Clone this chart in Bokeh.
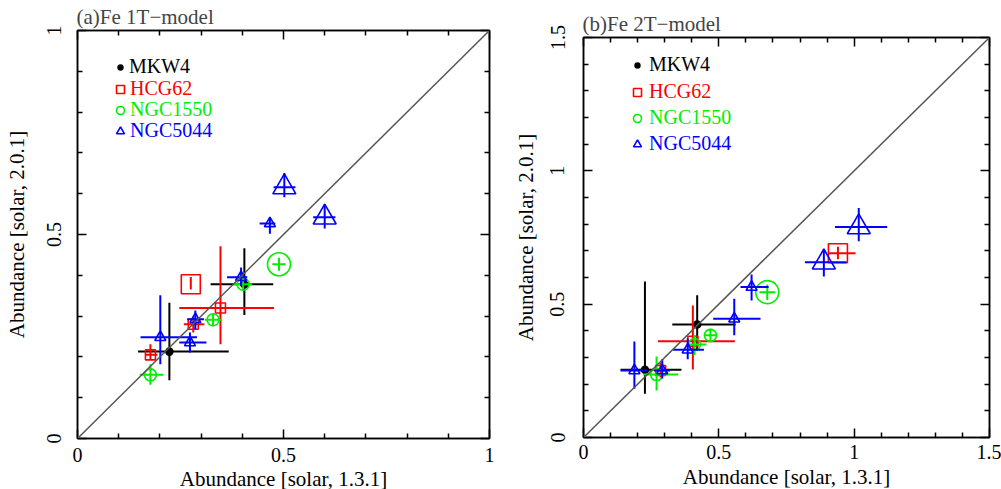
from bokeh.plotting import figure
from bokeh.models import (ColumnDataSource, FixedTicker, LinearAxis, Range1d, Slope,
                          Legend, LegendItem, NumeralTickFormatter)
from bokeh.layouts import row
from bokeh.embed import file_html
from bokeh.resources import INLINE

FONT = "Liberation Serif"
FS_TICK = "20px"
FS_TEXT = "21px"
FS_KEY = "20px"

# ---------------- (a) Fe, 1T model ----------------
mkw4_1t_x = [0.223, 0.405]
mkw4_1t_xlo = [0.147, 0.323]
mkw4_1t_xhi = [0.367, 0.475]
mkw4_1t_y = [0.213, 0.378]
mkw4_1t_ylo = [0.143, 0.303]
mkw4_1t_yhi = [0.333, 0.466]
mkw4_1t_big = [0, 0]

hcg62_1t_x = [0.177, 0.281, 0.347, 0.275]
hcg62_1t_xlo = [0.165, 0.258, 0.247, 0.275]
hcg62_1t_xhi = [0.194, 0.308, 0.477, 0.275]
hcg62_1t_y = [0.205, 0.280, 0.320, 0.378]
hcg62_1t_ylo = [0.193, 0.260, 0.231, 0.365]
hcg62_1t_yhi = [0.231, 0.297, 0.471, 0.396]
hcg62_1t_big = [0, 0, 0, 1]

ngc1550_1t_x = [0.177, 0.329, 0.402, 0.489]
ngc1550_1t_xlo = [0.151, 0.309, 0.379, 0.473]
ngc1550_1t_xhi = [0.208, 0.351, 0.424, 0.505]
ngc1550_1t_y = [0.156, 0.291, 0.378, 0.427]
ngc1550_1t_ylo = [0.132, 0.275, 0.362, 0.411]
ngc1550_1t_yhi = [0.182, 0.305, 0.395, 0.443]
ngc1550_1t_big = [0, 0, 0, 1]

ngc5044_1t_x = [0.201, 0.273, 0.286, 0.397, 0.467, 0.502, 0.600]
ngc5044_1t_xlo = [0.153, 0.247, 0.266, 0.363, 0.442, 0.476, 0.572]
ngc5044_1t_xhi = [0.290, 0.313, 0.307, 0.412, 0.480, 0.529, 0.626]
ngc5044_1t_y = [0.248, 0.235, 0.292, 0.395, 0.527, 0.616, 0.542]
ngc5044_1t_ylo = [0.182, 0.211, 0.268, 0.374, 0.502, 0.591, 0.515]
ngc5044_1t_yhi = [0.351, 0.260, 0.314, 0.419, 0.542, 0.651, 0.574]
ngc5044_1t_big = [0, 0, 0, 0, 0, 1, 1]

# ---------------- (b) Fe, 2T model ----------------
mkw4_2t_x = [0.227, 0.420]
mkw4_2t_xlo = [0.137, 0.328]
mkw4_2t_xhi = [0.362, 0.562]
mkw4_2t_y = [0.254, 0.424]
mkw4_2t_ylo = [0.164, 0.326]
mkw4_2t_yhi = [0.585, 0.533]
mkw4_2t_big = [0, 0]

hcg62_2t_x = [0.285, 0.404, 0.940]
hcg62_2t_xlo = [0.262, 0.275, 0.905]
hcg62_2t_xhi = [0.305, 0.559, 1.005]
hcg62_2t_y = [0.251, 0.361, 0.691]
hcg62_2t_ylo = [0.225, 0.255, 0.668]
hcg62_2t_yhi = [0.280, 0.495, 0.715]
hcg62_2t_big = [0, 0, 1]

ngc1550_2t_x = [0.270, 0.410, 0.469, 0.679]
ngc1550_2t_xlo = [0.221, 0.383, 0.445, 0.650]
ngc1550_2t_xhi = [0.350, 0.454, 0.494, 0.708]
ngc1550_2t_y = [0.236, 0.349, 0.383, 0.545]
ngc1550_2t_ylo = [0.176, 0.308, 0.357, 0.516]
ngc1550_2t_yhi = [0.304, 0.383, 0.408, 0.574]
ngc1550_2t_big = [0, 0, 0, 1]

ngc5044_2t_x = [0.188, 0.291, 0.385, 0.557, 0.621, 0.888, 1.017]
ngc5044_2t_xlo = [0.137, 0.262, 0.331, 0.479, 0.580, 0.818, 0.929]
ngc5044_2t_xhi = [0.235, 0.320, 0.445, 0.654, 0.684, 0.972, 1.122]
ngc5044_2t_y = [0.251, 0.251, 0.329, 0.445, 0.564, 0.657, 0.789]
ngc5044_2t_ylo = [0.183, 0.221, 0.293, 0.383, 0.514, 0.604, 0.736]
ngc5044_2t_yhi = [0.360, 0.293, 0.371, 0.520, 0.611, 0.704, 0.861]
ngc5044_2t_big = [0, 0, 0, 0, 0, 1, 1]

ticks_a = [0, 0.5, 1]
minor_a = [0.1, 0.2, 0.3, 0.4, 0.6, 0.7, 0.8, 0.9]
ticks_b = [0, 0.5, 1, 1.5]
minor_b = [0.1, 0.2, 0.3, 0.4, 0.6, 0.7, 0.8, 0.9, 1.1, 1.2, 1.3, 1.4]

x_label = "Abundance [solar, 1.3.1]"
y_label = "Abundance [solar, 2.0.1]"
names = ["MKW4", "HCG62", "NGC1550", "NGC5044"]
colors = ["black", "#ff0000", "#00ee00", "#0000ff"]
markers = ["circle", "square", "circle", "triangle"]
# (normal, large) marker sizes in px
marker_sizes = [(7, 7), (10, 19), (12, 23), (11, 23)]


def style_axis(ax, ticks, minor, show_labels):
    ax.ticker = FixedTicker(ticks=ticks, minor_ticks=minor)
    ax.formatter = NumeralTickFormatter(format="0.[0]")
    ax.major_tick_in = 9
    ax.major_tick_out = 0
    ax.minor_tick_in = 5
    ax.minor_tick_out = 0
    ax.axis_line_color = "black"
    ax.axis_line_width = 1.5
    ax.major_tick_line_width = 1.5
    ax.minor_tick_line_width = 1.5
    ax.major_label_text_font = FONT
    ax.axis_label_text_font = FONT
    ax.axis_label_text_font_size = FS_TEXT
    ax.axis_label_text_font_style = "normal"
    ax.axis_label_text_color = "black"
    if show_labels:
        ax.major_label_text_font_size = FS_TICK
        ax.major_label_text_color = "black"
    else:
        # tick marks only on the top and right edges
        ax.major_label_text_font_size = "0px"
        ax.major_label_text_color = None
        ax.major_label_standoff = 0
        ax.axis_label_standoff = 0


def make_panel(title, vmax, ticks, minor, fw, fh, bl, br, bt, bb,
               tick_standoff_y, label_standoff_y, tick_standoff_x, label_standoff_x,
               title_standoff):
    p = figure(frame_width=fw, frame_height=fh,
               x_range=Range1d(0, vmax), y_range=Range1d(0, vmax),
               output_backend="svg", toolbar_location=None,
               min_border_left=bl, min_border_right=br,
               min_border_top=bt, min_border_bottom=bb,
               background_fill_color="white", border_fill_color="white")
    p.frame_align = False
    p.grid.visible = False
    p.outline_line_color = "black"
    p.outline_line_width = 1.5

    p.title.text = title
    p.title.align = "left"
    p.title.text_font = FONT
    p.title.text_font_size = FS_TEXT
    p.title.text_font_style = "normal"
    p.title.standoff = title_standoff
    p.title.offset = -1

    top = LinearAxis()
    right = LinearAxis()
    p.add_layout(top, "above")
    p.add_layout(right, "right")
    bottom = p.below[0]
    left = p.left[0]
    style_axis(bottom, ticks, minor, True)
    style_axis(left, ticks, minor, True)
    style_axis(top, ticks, minor, False)
    style_axis(right, ticks, minor, False)

    bottom.axis_label = x_label
    left.axis_label = y_label
    left.major_label_orientation = "vertical"
    left.major_label_standoff = tick_standoff_y
    left.axis_label_standoff = label_standoff_y
    bottom.major_label_standoff = tick_standoff_x
    bottom.axis_label_standoff = label_standoff_x

    p.add_layout(Slope(gradient=1, y_intercept=0, line_color="#555555", line_width=1.5))
    return p


def add_series(p, x, xlo, xhi, y, ylo, yhi, big, k):
    color = colors[k]
    size = [marker_sizes[k][b] for b in big]
    src = ColumnDataSource(dict(x=x, xlo=xlo, xhi=xhi, y=y, ylo=ylo, yhi=yhi, size=size))
    p.segment(x0="xlo", y0="y", x1="xhi", y1="y", source=src, line_color=color, line_width=2)
    p.segment(x0="x", y0="ylo", x1="x", y1="yhi", source=src, line_color=color, line_width=2)
    filled = (k == 0)
    r = p.scatter(x="x", y="y", size="size", marker=markers[k], source=src,
                  line_color=color, line_width=1.6,
                  fill_color=color if filled else None)
    return r


def add_key(p, renderers, xs, ys, standoffs):
    for k, r in enumerate(renderers):
        gw = 12 if k == 0 else 20
        leg = Legend(items=[LegendItem(label=names[k], renderers=[r])],
                     location=(xs[k], ys[k]),
                     padding=0, margin=0, spacing=0,
                     glyph_width=gw, glyph_height=20, label_height=20,
                     label_standoff=standoffs[k],
                     label_text_font=FONT, label_text_font_size=FS_KEY,
                     label_text_color=colors[k],
                     border_line_color=None, background_fill_alpha=0)
        p.add_layout(leg)


# panel (a)
pa = make_panel("(a)Fe 1T\u2212model", 1.0, ticks_a, minor_a, 412, 408, 77, 11, 28, 53,
                17, 15, 9, 2, 4)
ra = [
    add_series(pa, mkw4_1t_x, mkw4_1t_xlo, mkw4_1t_xhi, mkw4_1t_y, mkw4_1t_ylo, mkw4_1t_yhi, mkw4_1t_big, 0),
    add_series(pa, hcg62_1t_x, hcg62_1t_xlo, hcg62_1t_xhi, hcg62_1t_y, hcg62_1t_ylo, hcg62_1t_yhi, hcg62_1t_big, 1),
    add_series(pa, ngc1550_1t_x, ngc1550_1t_xlo, ngc1550_1t_xhi, ngc1550_1t_y, ngc1550_1t_ylo, ngc1550_1t_yhi, ngc1550_1t_big, 2),
    add_series(pa, ngc5044_1t_x, ngc5044_1t_xlo, ngc5044_1t_xhi, ngc5044_1t_y, ngc5044_1t_ylo, ngc5044_1t_yhi, ngc5044_1t_big, 3),
]
add_key(pa, ra, [37, 33, 33, 33], [360, 338, 317, 296], [3, 0, 0, 0])

# panel (b)
pb = make_panel("(b)Fe 2T\u2212model", 1.5, ticks_b, minor_b, 406, 400, 83, 12, 37, 52,
                19, 10, 7, 3, 4)
rb = [
    add_series(pb, mkw4_2t_x, mkw4_2t_xlo, mkw4_2t_xhi, mkw4_2t_y, mkw4_2t_ylo, mkw4_2t_yhi, mkw4_2t_big, 0),
    add_series(pb, hcg62_2t_x, hcg62_2t_xlo, hcg62_2t_xhi, hcg62_2t_y, hcg62_2t_ylo, hcg62_2t_yhi, hcg62_2t_big, 1),
    add_series(pb, ngc1550_2t_x, ngc1550_2t_xlo, ngc1550_2t_xhi, ngc1550_2t_y, ngc1550_2t_ylo, ngc1550_2t_yhi, ngc1550_2t_big, 2),
    add_series(pb, ngc5044_2t_x, ngc5044_2t_xlo, ngc5044_2t_xhi, ngc5044_2t_y, ngc5044_2t_ylo, ngc5044_2t_yhi, ngc5044_2t_big, 3),
]
add_key(pb, rb, [48, 44, 44, 44], [361, 334, 308, 282], [6, 2, 2, 2])

layout = row(pa, pb)
with open("out.html", "w") as f:
    f.write(file_html(layout, INLINE))
